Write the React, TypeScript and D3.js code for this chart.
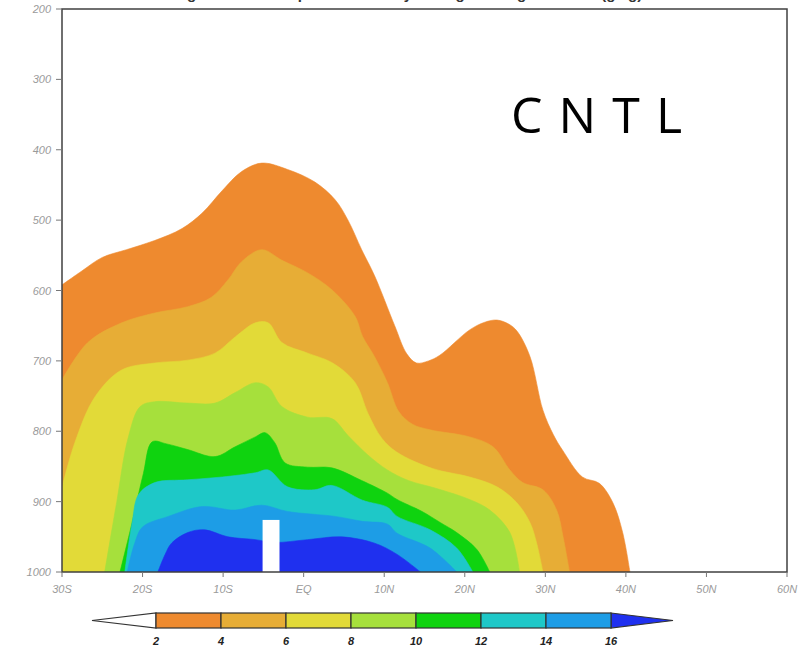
import React from 'react';
import * as d3 from 'd3';

// ---- axes ----
const yTicks = [200, 300, 400, 500, 600, 700, 800, 900, 1000];
const xTicks = [-30, -20, -10, 0, 10, 20, 30, 40, 50, 60];
const xTickLabels = ['30S', '20S', '10S', 'EQ', '10N', '20N', '30N', '40N', '50N', '60N'];

// ---- contour levels (g/kg) and fill colours ----
const levels = [2, 4, 6, 8, 10, 12, 14, 16];
const levelColors = ['#ee8a2f', '#e7ad36', '#e2da38', '#a6e03c', '#0fd30f', '#1ec8c8', '#1d9de6', '#1f30ef'];
const underColor = '#ffffff';

// ---- contour boundaries [lat, pressure hPa] ----
const q2Boundary: [number, number][] = [
  [-30, 592], [-27.5, 572], [-25, 553], [-22, 542], [-18.5, 529], [-15.1, 512], [-12.6, 490],
  [-10.1, 458], [-7.7, 431], [-5.2, 419], [-2, 428], [1.4, 446], [3.9, 471], [5.5, 500],
  [7.2, 542], [8.8, 579], [11.3, 650], [12.8, 690], [14, 703], [15.5, 700], [16.9, 692],
  [20.6, 656], [22.5, 645], [24, 642], [25.5, 648], [26.5, 658], [28.1, 694], [29.7, 770],
  [31, 805], [32.2, 828], [34.6, 865], [36.7, 874], [38.4, 902], [39.6, 944], [40.5, 1000],
];
const q4Boundary: [number, number][] = [
  [-30, 727], [-26.8, 674], [-22.6, 646], [-18.5, 632], [-14.4, 623], [-11.5, 610], [-9.4, 585],
  [-7.7, 559], [-5.2, 542], [-2.7, 557], [0.5, 575], [3.5, 599], [6.4, 637], [7.3, 665],
  [8.8, 694], [10.4, 731], [11.8, 772], [13.5, 790], [15.7, 798], [20.6, 808], [23.5, 822],
  [25.6, 855], [27.2, 873], [29.7, 883], [31.4, 912], [32.2, 950], [33, 1000],
];
const q6Boundary: [number, number][] = [
  [-30, 880], [-28.4, 816], [-25.9, 751], [-22.6, 713], [-18.5, 703], [-14.4, 699], [-11, 689],
  [-8.5, 666], [-6, 646], [-4.4, 646], [-2.7, 674], [0.5, 689], [3.6, 703], [6.4, 731],
  [8, 775], [9.7, 810], [11.6, 830], [16, 853], [20.6, 865], [24, 879], [26.5, 902],
  [28.1, 930], [28.9, 958], [29.7, 1000],
];
const q8Boundary: [number, number][] = [
  [-24.7, 1000], [-23.2, 900], [-21.8, 810], [-20.3, 765], [-18.5, 758], [-14.4, 760], [-11, 760],
  [-8.5, 745], [-6, 731], [-4.4, 737], [-2.7, 765], [0.5, 780], [3.5, 782], [5.5, 806],
  [8, 834], [10.4, 855], [13, 870], [16.4, 881], [20.6, 897], [23.1, 912], [25.6, 944], [26.8, 1000],
];
const q10Boundary: [number, number][] = [
  [-22.8, 1000], [-21.3, 930], [-19.9, 860], [-18.8, 815], [-17, 818], [-14.4, 826], [-11, 836],
  [-8.5, 822], [-6, 808], [-4.8, 802], [-3.6, 816], [-2.3, 845], [0.5, 851], [3.5, 852],
  [7.2, 870], [10.4, 888], [11.6, 897], [14.7, 914], [17, 930], [19, 944], [21.5, 968], [23.1, 1000],
];
const q12Boundary: [number, number][] = [
  [-22.2, 1000], [-21.3, 930], [-20.5, 890], [-18.5, 873], [-14.4, 869], [-10.1, 865], [-6, 859],
  [-4.4, 855], [-2, 879], [1.4, 883], [3.5, 877], [7.3, 898], [10.4, 908], [11.6, 921],
  [15.7, 940], [19, 966], [21, 1000],
];
const q14Boundary: [number, number][] = [
  [-21.9, 1000], [-21, 960], [-20, 936], [-16.8, 921], [-12.6, 907], [-8.5, 912], [-5.2, 905],
  [-2, 914], [3.9, 921], [7.3, 928], [10.4, 932], [11.6, 945], [15.7, 966], [19, 1000],
];
const q16Boundary: [number, number][] = [
  [-18.1, 1000], [-17.2, 975], [-16.4, 959], [-14.4, 944], [-12.3, 940], [-9.4, 950], [-6, 954],
  [-3.6, 958], [0.5, 954], [4.7, 950], [8.8, 959], [11.6, 975], [14.5, 1000],
];
const boundaries = [q2Boundary, q4Boundary, q6Boundary, q8Boundary, q10Boundary, q12Boundary, q14Boundary, q16Boundary];

// missing-data (topography) mask: lat range and top pressure
const maskLat = [-5.1, -3.0];
const maskTopP = 926;

const titleText = 'Lat-height section of specific humidity averaged along 90E-100E (g/kg)';

export default function App() {
  const W = 800, H = 647;
  const x = d3.scaleLinear().domain([-30, 60]).range([62, 787]);
  const y = d3.scaleLinear().domain([200, 1000]).range([9, 572]);
  const line = d3.line<[number, number]>()
    .x(d => x(d[0]))
    .y(d => y(d[1]))
    .curve(d3.curveCatmullRom.alpha(0.5));

  const regionPath = (b: [number, number][]) => {
    const first = b[0], last = b[b.length - 1];
    return `${line(b)}L${x(last[0])},${y(1000)}L${x(first[0])},${y(1000)}Z`;
  };

  const cb = d3.scaleLinear().domain([2, 16]).range([156, 611]);
  const cbTop = 613, cbBot = 628, cbMid = (cbTop + cbBot) / 2;

  return (
    <svg width={W} height={H} style={{ position: 'fixed', left: 0, top: 0, background: '#fff' }}
      fontFamily="'Liberation Sans', Arial, sans-serif">
      <rect x={0} y={0} width={W} height={H} fill="#fff" />
      <text x={390} y={-1} textAnchor="middle" fontSize={15} fontWeight="bold" fill="#333">{titleText}</text>
      <defs>
        <clipPath id="plotClip">
          <rect x={x(-30)} y={y(200)} width={x(60) - x(-30)} height={y(1000) - y(200)} />
        </clipPath>
      </defs>
      <g clipPath="url(#plotClip)">
        <rect x={x(-30)} y={y(200)} width={x(60) - x(-30)} height={y(1000) - y(200)} fill={underColor} />
        {boundaries.map((b, i) => (
          <path key={i} d={regionPath(b)} fill={levelColors[i]} stroke={levelColors[i]} strokeWidth={0.6} />
        ))}
        <rect x={x(maskLat[0])} y={y(maskTopP)} width={x(maskLat[1]) - x(maskLat[0])}
          height={y(1000) - y(maskTopP) + 2} fill="#fff" />
      </g>
      {/* frame */}
      <rect x={x(-30)} y={y(200)} width={x(60) - x(-30)} height={y(1000) - y(200)}
        fill="none" stroke="#404040" strokeWidth={1.5} />
      {/* y axis */}
      {yTicks.map(t => (
        <g key={t}>
          <line x1={x(-30) - 6} x2={x(-30)} y1={y(t)} y2={y(t)} stroke="#777" strokeWidth={1} />
          <text x={x(-30) - 11} y={y(t) + 4} textAnchor="end" fontSize={11} fontStyle="italic" fill="#9a9a9a">{t}</text>
        </g>
      ))}
      {/* x axis */}
      {xTicks.map((t, i) => (
        <g key={t}>
          <line x1={x(t)} x2={x(t)} y1={y(1000)} y2={y(1000) + 5} stroke="#777" strokeWidth={1} />
          <text x={x(t)} y={y(1000) + 21} textAnchor="middle" fontSize={11} fontStyle="italic" fill="#9a9a9a">{xTickLabels[i]}</text>
        </g>
      ))}
      {/* experiment label */}
      <text x={511} y={133} fontFamily="'Open Sans', 'Noto Sans', sans-serif" fontSize={50} fill="#000"
        textLength={171} lengthAdjust="spacing">C N T L</text>
      {/* colorbar */}
      <polygon points={`${cb(2) - 64},${cbMid} ${cb(2)},${cbTop} ${cb(2)},${cbBot}`} fill={underColor} stroke="#333" strokeWidth={1.2} />
      <polygon points={`${cb(16)},${cbTop} ${cb(16) + 62},${cbMid} ${cb(16)},${cbBot}`} fill={levelColors[7]} stroke="#333" strokeWidth={1.2} />
      {levels.slice(0, -1).map((lv, i) => (
        <rect key={lv} x={cb(lv)} y={cbTop} width={cb(levels[i + 1]) - cb(lv)} height={cbBot - cbTop}
          fill={levelColors[i]} stroke="#333" strokeWidth={1.2} />
      ))}
      {levels.map(lv => (
        <text key={lv} x={cb(lv)} y={645} textAnchor="middle" fontSize={11} fontWeight="bold" fontStyle="italic" fill="#222">{lv}</text>
      ))}
    </svg>
  );
}
